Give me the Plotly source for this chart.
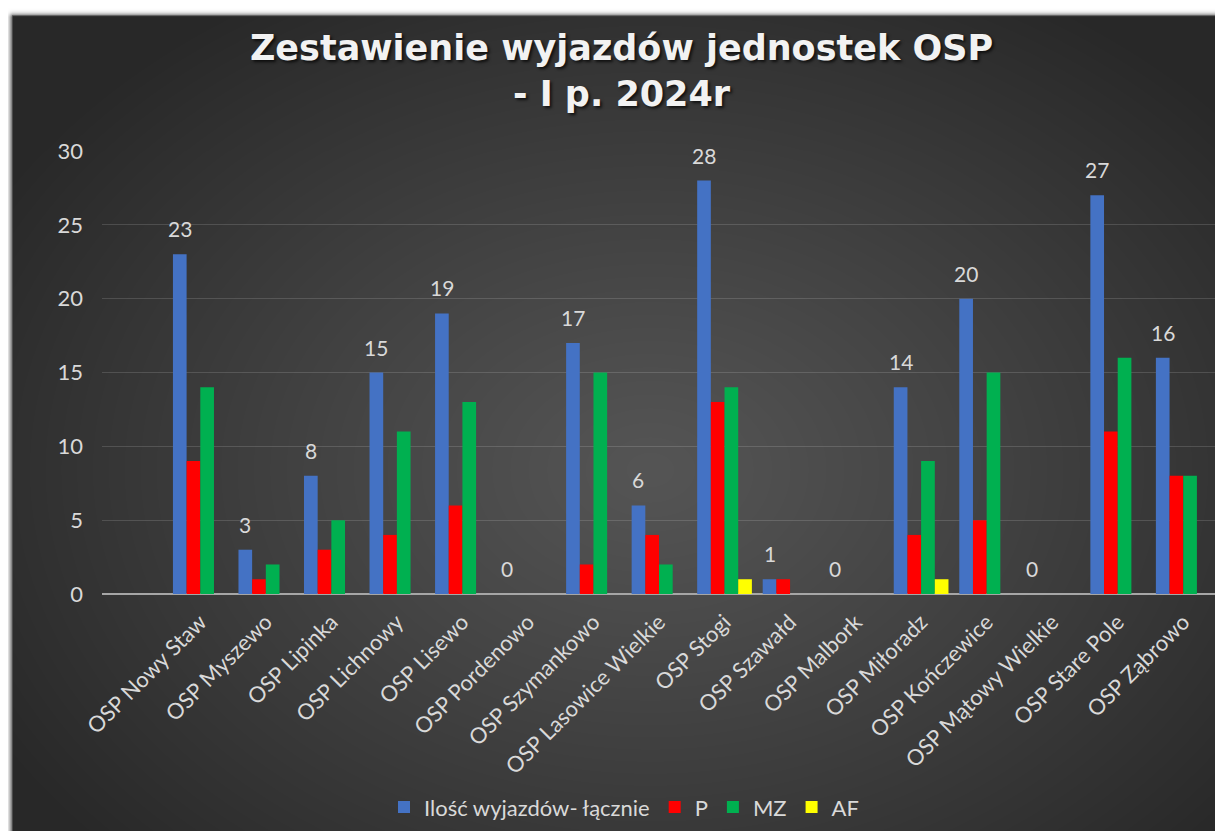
import base64
import struct
import zlib

import numpy as np
import plotly.graph_objects as go

# ---------------- data ----------------
categories = [
    "OSP Nowy Staw", "OSP Myszewo", "OSP Lipinka", "OSP Lichnowy", "OSP Lisewo",
    "OSP Pordenowo", "OSP Szymankowo", "OSP Lasowice Wielkie", "OSP Stogi",
    "OSP Szawałd", "OSP Malbork", "OSP Miłoradz", "OSP Kończewice",
    "OSP Mątowy Wielkie", "OSP Stare Pole", "OSP Ząbrowo",
]
total = [23, 3, 8, 15, 19, 0, 17, 6, 28, 1, 0, 14, 20, 0, 27, 16]
p_vals = [9, 1, 3, 4, 6, 0, 2, 4, 13, 1, 0, 4, 5, 0, 11, 8]
mz_vals = [14, 2, 5, 11, 13, 0, 15, 2, 14, 0, 0, 9, 15, 0, 16, 8]
af_vals = [0, 0, 0, 0, 0, 0, 0, 0, 1, 0, 0, 1, 0, 0, 0, 0]
series_names = ["Ilość wyjazdów- łącznie", "P", "MZ", "AF"]
y_ticks = [0, 5, 10, 15, 20, 25, 30]

# ---------------- layout constants ----------------
WIN_W, WIN_H = 1223, 839
OFF = 8                      # default page body margin
W, H = WIN_W - OFF, WIN_H - 2 * OFF   # figure fits the window without scrolling
# plot area in window pixels
PL, PR, PT, PB = 102, 1216, 151, 594.5
ML, MT = PL - OFF, PT - OFF
MR = W - (PR - OFF)
MB = H - (PB - OFF)
PW, PH = W - ML - MR, H - MT - MB
TXT = "#d9d9d9"
BARGAP = 0.165
N_SLOTS = 17  # x range spans 17 category widths


def paper_x(win_x):
    return (win_x - OFF - ML) / PW


def paper_y(win_y):
    return (H - MB - (win_y - OFF)) / PH


# ---------------- background (dark gradient panel with soft shadow) ----------------
def png_data_uri(rgb):
    h, w, _ = rgb.shape
    arr = rgb.astype(np.int16)
    diff = arr.copy()
    diff[:, 1:, :] = (arr[:, 1:, :] - arr[:, :-1, :]) % 256
    raw = np.concatenate(
        [np.ones((h, 1), np.uint8), diff.astype(np.uint8).reshape(h, w * 3)], axis=1
    ).tobytes()

    def chunk(t, d):
        return struct.pack(">I", len(d)) + t + d + struct.pack(">I", zlib.crc32(t + d) & 0xFFFFFFFF)

    png = (b"\x89PNG\r\n\x1a\n"
           + chunk(b"IHDR", struct.pack(">IIBBBBB", w, h, 8, 2, 0, 0, 0))
           + chunk(b"IDAT", zlib.compress(raw, 9))
           + chunk(b"IEND", b""))
    return "data:image/png;base64," + base64.b64encode(png).decode()


# background drawn in window coordinates
yy, xx = np.mgrid[0:WIN_H, 0:WIN_W].astype(float)
bx0, bx1, by0, by1 = 12.0, 1240.0, 15.0, 832.0


def rect_dist(x0, x1, y0, y1):
    dx = np.maximum(np.maximum(x0 - xx, xx - x1), 0)
    dy = np.maximum(np.maximum(y0 - yy, yy - y1), 0)
    return np.sqrt(dx ** 2 + dy ** 2)


img = np.full((WIN_H, WIN_W), 255.0)
sd = rect_dist(bx0 + 1, bx1 + 1, by0 + 2, by1 + 2)
sa = 0.6 * np.exp(-(sd / 4.0) ** 2)
img = img * (1 - sa)
cx, cy, rx, ry = 650.0, 470.0, 760.0, 560.0
r = np.clip(np.sqrt(((xx - cx) / rx) ** 2 + ((yy - cy) / ry) ** 2), 0, 1)
grad = 85.0 - (85.0 - 40.0) * r ** 1.1
cov = np.clip(np.minimum.reduce([xx - bx0 + 0.5, bx1 - xx + 0.5, yy - by0 + 0.5, by1 - yy + 0.5]), 0, 1)
img = img * (1 - cov) + grad * cov
rgb = np.repeat(np.clip(img, 0, 255).astype(np.uint8)[:, :, None], 3, axis=2)
bg_uri = png_data_uri(rgb)

# ---------------- figure ----------------
fig = go.Figure()
fig.add_trace(go.Bar(x=categories, y=total, name=series_names[0], marker_color="#4472C4"))
fig.add_trace(go.Bar(x=categories, y=p_vals, name=series_names[1], marker_color="#FF0000"))
fig.add_trace(go.Bar(x=categories, y=mz_vals, name=series_names[2], marker_color="#00B050"))
fig.add_trace(go.Bar(x=categories, y=af_vals, name=series_names[3], marker_color="#FFFF00"))
fig.update_traces(marker_line_width=0)

# data labels above the first series' bars
slot_px = PW / N_SLOTS * (1 - BARGAP) / 4
for cat, val in zip(categories, total):
    fig.add_annotation(
        x=cat, y=val, text=str(val), showarrow=False,
        xanchor="center", yanchor="bottom", xshift=-1.5 * slot_px, yshift=11,
        font=dict(family="Lato", size=21, color=TXT),
    )

fig.update_layout(
    width=W, height=H, autosize=False,
    margin=dict(l=ML, r=MR, t=MT, b=MB, pad=0, autoexpand=False),
    paper_bgcolor="white",
    plot_bgcolor="rgba(0,0,0,0)",
    font=dict(family="Lato", color=TXT, size=22),
    barmode="group", bargap=BARGAP, bargroupgap=0,
    title=dict(
        text="Zestawienie wyjazdów jednostek OSP<br>- I p. 2024r",
        font=dict(family="DejaVu Sans", size=35, color="#f2f2f2", weight="bold",
                  shadow="2px 2px 3px rgba(0,0,0,0.7)"),
        xref="container", x=(621.5 - OFF) / W, xanchor="center",
        yref="container", y=1 - (60 - OFF) / H, yanchor="top",
    ),
    legend=dict(
        orientation="h", xref="paper", x=paper_x(624), xanchor="center",
        yref="paper", y=paper_y(808), yanchor="middle",
        font=dict(family="Lato", size=22, color=TXT), itemwidth=30,
        bgcolor="rgba(0,0,0,0)", traceorder="normal",
    ),
    xaxis=dict(
        type="category", range=[-1.5, 15.5], tickangle=-45, showgrid=False,
        ticks="", ticklabelstandoff=10, showline=False, zeroline=False,
        automargin=False,
        tickfont=dict(family="Lato", size=22, color=TXT),
    ),
    yaxis=dict(
        range=[0, 30], tickvals=y_ticks, showgrid=True,
        gridcolor="rgba(255,255,255,0.14)", gridwidth=1,
        zeroline=True, zerolinecolor="#a6a6a6", zerolinewidth=2,
        ticks="", ticklabelstandoff=18, showline=False, automargin=False,
        tickfont=dict(family="Lato", size=22, color=TXT),
    ),
    images=[dict(
        source=bg_uri, xref="paper", yref="paper",
        x=paper_x(0), y=paper_y(0), sizex=WIN_W / PW, sizey=WIN_H / PH,
        xanchor="left", yanchor="top", sizing="stretch", layer="below",
    )],
)

fig.write_html("out.html")
